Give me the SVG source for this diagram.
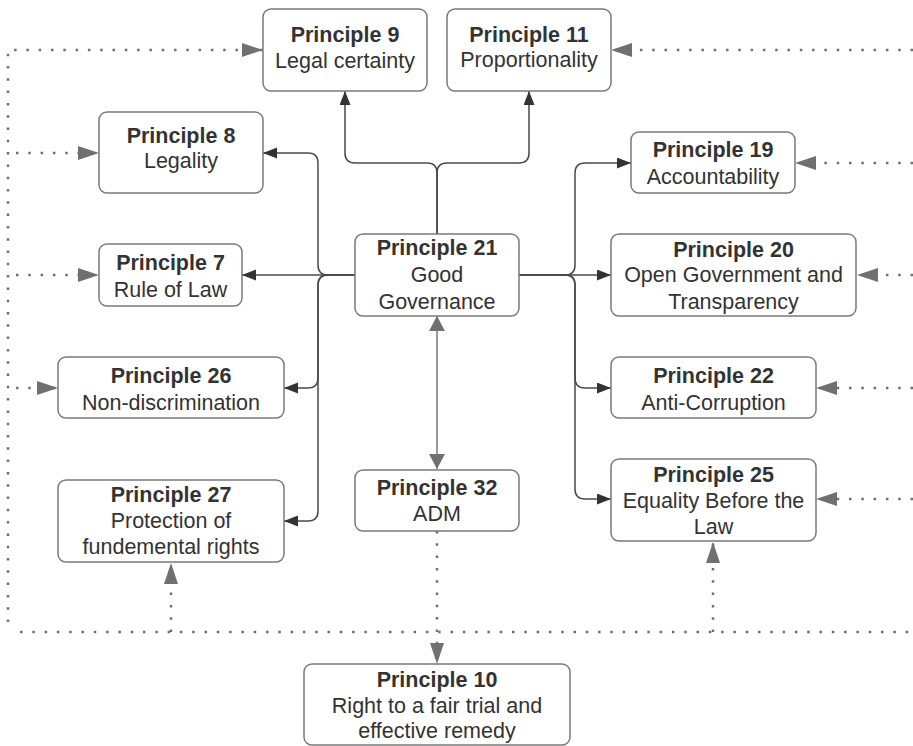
<svg xmlns="http://www.w3.org/2000/svg" width="913" height="746" viewBox="0 0 913 746">
<style>
.box{fill:#fff;stroke:#7a7a7a;stroke-width:1.5}
text{font-family:"Liberation Sans",Arial,sans-serif;font-size:21.5px;fill:#333;text-anchor:middle}
.b{font-weight:bold}
.sol{fill:none;stroke:#4a4a4a;stroke-width:1.5}
.dot{fill:none;stroke:#6f6f6f;stroke-width:2.5;stroke-dasharray:2.5 9.8}
.cen{fill:none;stroke:#777;stroke-width:1.5}
</style>
<defs>
<marker id="aS" markerUnits="userSpaceOnUse" markerWidth="14" markerHeight="12" refX="14" refY="5.5" orient="auto"><path d="M0,0 L14,5.5 L0,11 z" fill="#333"/></marker>
<marker id="aD" markerUnits="userSpaceOnUse" markerWidth="21" markerHeight="15" refX="21" refY="7" orient="auto"><path d="M0,0 L21,7 L0,14 z" fill="#707070"/></marker>
<marker id="aC" markerUnits="userSpaceOnUse" markerWidth="15" markerHeight="17" refX="15" refY="8" orient="auto-start-reverse"><path d="M0,0 L15,8 L0,16 z" fill="#707070"/></marker>
</defs>
<rect width="913" height="746" fill="#fff"/>
<g id="connectors">
<path class="sol" d="M437,234 V173 Q437,163 427,163 H355 Q345,163 345,153 V91" marker-end="url(#aS)"/>
<path class="sol" d="M437,234 V173 Q437,163 447,163 H519 Q529,163 529,153 V91" marker-end="url(#aS)"/>
<path class="sol" d="M355,275 H328 Q318,275 318,265 V163 Q318,153 308,153 H263" marker-end="url(#aS)"/>
<path class="sol" d="M355,275 H242" marker-end="url(#aS)"/>
<path class="sol" d="M355,275 H328 Q318,275 318,285 V378 Q318,388 308,388 H284" marker-end="url(#aS)"/>
<path class="sol" d="M328,275 Q318,275 318,285 V511 Q318,521 308,521 H284" marker-end="url(#aS)"/>
<path class="sol" d="M519,275 H611" marker-end="url(#aS)"/>
<path class="sol" d="M519,275 H565 Q575,275 575,265 V173 Q575,163 585,163 H631" marker-end="url(#aS)"/>
<path class="sol" d="M519,275 H565 Q575,275 575,285 V378 Q575,388 585,388 H611" marker-end="url(#aS)"/>
<path class="sol" d="M565,275 Q575,275 575,285 V489 Q575,499 585,499 H611" marker-end="url(#aS)"/>
<path class="cen" d="M437,316 V469" marker-start="url(#aC)" marker-end="url(#aC)"/>
<path class="dot" d="M8,622 V50 H263" marker-end="url(#aD)"/>
<path class="dot" d="M20,632 H913"/>
<path class="dot" d="M913,50 H611" marker-end="url(#aD)"/>
<path class="dot" d="M913,163 H795" marker-end="url(#aD)"/>
<path class="dot" d="M913,275 H857" marker-end="url(#aD)"/>
<path class="dot" d="M913,388 H816" marker-end="url(#aD)"/>
<path class="dot" d="M913,499 H816" marker-end="url(#aD)"/>
<path class="dot" d="M16,153 H99" marker-end="url(#aD)"/>
<path class="dot" d="M16,275 H99" marker-end="url(#aD)"/>
<path class="dot" d="M16,388 H58" marker-end="url(#aD)"/>
<path class="dot" d="M171,632 V563" marker-end="url(#aD)"/>
<path class="dot" d="M713,632 V542" marker-end="url(#aD)"/>
<path class="dot" d="M437,531 V664" marker-end="url(#aD)"/>
</g>
<g id="p9"><rect class="box" x="263" y="9" width="164" height="82" rx="8"/><text class="b" x="345" y="42">Principle 9</text><text x="345" y="68">Legal certainty</text></g>
<g id="p11"><rect class="box" x="447" y="9" width="164" height="82" rx="8"/><text class="b" x="529" y="42">Principle 11</text><text x="529" y="67">Proportionality</text></g>
<g id="p8"><rect class="box" x="99" y="112" width="164" height="81" rx="8"/><text class="b" x="181" y="143">Principle 8</text><text x="181" y="168">Legality</text></g>
<g id="p19"><rect class="box" x="631" y="132" width="164" height="61" rx="8"/><text class="b" x="713" y="157">Principle 19</text><text x="713" y="184">Accountability</text></g>
<g id="p7"><rect class="box" x="99" y="244" width="143" height="62" rx="8"/><text class="b" x="170.5" y="270">Principle 7</text><text x="170.5" y="297">Rule of Law</text></g>
<g id="p21"><rect class="box" x="355" y="234" width="164" height="82" rx="8"/><text class="b" x="437" y="255">Principle 21</text><text x="437" y="282">Good</text><text x="437" y="309">Governance</text></g>
<g id="p20"><rect class="box" x="611" y="234" width="245" height="82" rx="8"/><text class="b" x="733.5" y="257">Principle 20</text><text x="733.5" y="282">Open Government and</text><text x="733.5" y="309">Transparency</text></g>
<g id="p26"><rect class="box" x="58" y="357" width="226" height="61" rx="8"/><text class="b" x="171" y="383">Principle 26</text><text x="171" y="410">Non-discrimination</text></g>
<g id="p22"><rect class="box" x="611" y="357" width="205" height="61" rx="8"/><text class="b" x="713.5" y="383">Principle 22</text><text x="713.5" y="410">Anti-Corruption</text></g>
<g id="p27"><rect class="box" x="58" y="480" width="226" height="82" rx="8"/><text class="b" x="171" y="502">Principle 27</text><text x="171" y="528">Protection of</text><text x="171" y="554">fundemental rights</text></g>
<g id="p32"><rect class="box" x="355" y="470" width="164" height="61" rx="8"/><text class="b" x="437" y="495">Principle 32</text><text x="437" y="521">ADM</text></g>
<g id="p25"><rect class="box" x="611" y="459" width="205" height="82" rx="8"/><text class="b" x="713.5" y="482">Principle 25</text><text x="713.5" y="508">Equality Before the</text><text x="713.5" y="534">Law</text></g>
<g id="p10"><rect class="box" x="304" y="664" width="266" height="81" rx="8"/><text class="b" x="437" y="687">Principle 10</text><text x="437" y="713">Right to a fair trial and</text><text x="437" y="738">effective remedy</text></g>
</svg>
